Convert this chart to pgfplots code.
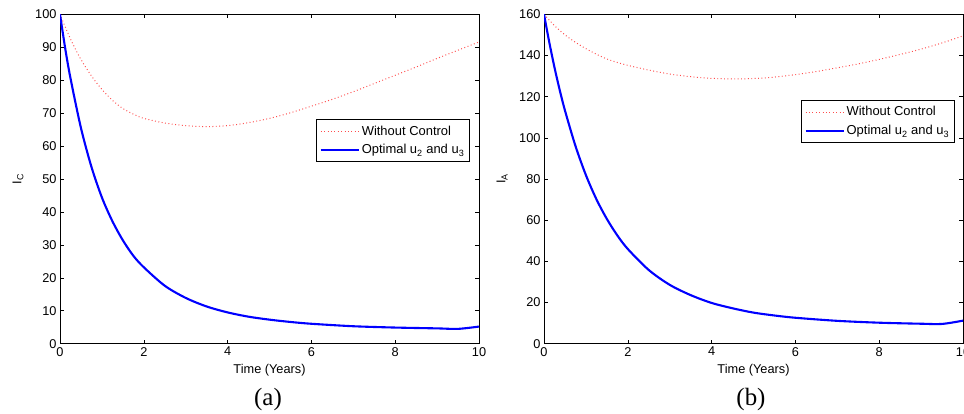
\documentclass[border=0pt]{standalone}
\usepackage{pgfplots}
\pgfplotsset{compat=1.18}
\usepackage{fontspec}
\setmainfont{Liberation Sans}
\newfontfamily\capfont{Liberation Serif}

\definecolor{nocontrol}{rgb}{1,0.3,0.3}
\definecolor{optimal}{rgb}{0,0,1}

\pgfplotsset{
  matstyle/.style={
    scale only axis, width=419bp, height=329.4bp,
    xmin=0, xmax=10, xtick={0,2,...,10},
    tick align=inside, tick pos=both,
    major tick length=4bp,
    axis line style={line width=0.8bp},
    every tick/.style={line width=0.6bp, black},
    /pgf/number format/assume math mode=true,
    tick label style={font=\fontsize{12.8}{14}\selectfont},
    label style={font=\fontsize{12.8}{14}\selectfont},
    xlabel={Time (Years)},
    xlabel style={at={(axis description cs:0.5,-0.079)}, anchor=center},
    ylabel style={at={(axis description cs:-0.1,0.5)}, anchor=center},
    legend cell align=left,
    legend style={draw=black, line width=1bp, fill=white,
      font=\fontsize{13}{15}\selectfont, inner xsep=3bp, inner ysep=4.5bp,
      row sep=4bp},
    legend image code/.code={\draw[##1] (0bp,0bp) -- (38bp,0bp);},
  },
  nc/.style={color=nocontrol, line width=1bp, dash pattern=on 0.9bp off 2.5bp, smooth},
  opt/.style={color=optimal, line width=2.1bp, smooth},
}

\begin{document}
\begin{tikzpicture}
\path[use as bounding box] (0,0) rectangle (964bp,414bp);

% Panel (a): infected children
\begin{axis}[matstyle, at={(60bp,70.3bp)}, anchor=south west,
  ymin=0, ymax=100, ytick={0,10,...,100},
  ylabel={I\textsubscript{C}},
  legend style={at={(0.978,0.683)}, anchor=north east}]
\addplot[nc] coordinates {
 (0,100) (0.25,92.5) (0.5,86.3) (0.75,81.3) (1,77.2) (1.25,73.9) (1.5,71.4)
 (1.75,69.7) (2,68.4) (2.5,67) (3,66.2) (3.5,65.9) (4,66.2) (4.5,67.1)
 (5,68.4) (5.5,70.1) (6,72.1) (6.5,74.2) (7,76.5) (7.5,79) (8,81.5)
 (8.5,84) (9,86.6) (9.5,89.1) (10,91.6)};
\addlegendentry{Without Control}
\addplot[opt] coordinates {
 (0,100) (0.125,89.6) (0.25,80.6) (0.5,65.5) (0.75,53.7) (1,44.4)
 (1.25,37.2) (1.5,31.4) (1.75,26.7) (2,23.2) (2.5,17.6) (3,13.9)
 (3.5,11.3) (4,9.5) (4.5,8.2) (5,7.3) (5.5,6.6) (6,6.05) (7,5.3)
 (8,4.9) (9,4.65) (9.5,4.5) (10,5.2)};
\addlegendentry{Optimal u\textsubscript{2} and u\textsubscript{3}}
\end{axis}

% Panel (b): infected adults
\begin{axis}[matstyle, at={(544bp,70.3bp)}, anchor=south west,
  ymin=0, ymax=160, ytick={0,20,...,160},
  ylabel={I\textsubscript{A}},
  legend style={at={(0.980,0.741)}, anchor=north east}]
\addplot[nc] coordinates {
 (0,160) (0.25,154.5) (0.5,150) (0.75,146.4) (1,143.3) (1.25,140.6)
 (1.5,138.3) (1.75,136.6) (2,135.2) (2.5,132.9) (3,131) (3.5,129.7)
 (4,128.9) (4.5,128.6) (5,128.8) (5.5,129.5) (6,130.7) (6.5,132.2)
 (7,134) (7.5,135.9) (8,138.1) (8.5,140.5) (9,143.1) (9.5,146.1)
 (10,149.5)};
\addlegendentry{Without Control}
\addplot[opt] coordinates {
 (0,160) (0.125,146.5) (0.25,134.2) (0.375,123.2) (0.5,113.3) (0.75,96.1)
 (1,81.9) (1.25,70.2) (1.5,60.6) (1.75,52.6) (2,46) (2.5,35.8) (3,28.6)
 (3.5,23.6) (4,19.8) (4.5,17.2) (5,15.1) (5.5,13.7) (6,12.6) (7,11.1)
 (8,10.2) (9,9.7) (9.5,9.6) (10,11.2)};
\addlegendentry{Optimal u\textsubscript{2} and u\textsubscript{3}}
\end{axis}

\node[font=\capfont\fontsize{25}{30}\selectfont] at (268bp,14bp) {(a)};
\node[font=\capfont\fontsize{25}{30}\selectfont] at (751bp,14bp) {(b)};
\end{tikzpicture}
\end{document}
